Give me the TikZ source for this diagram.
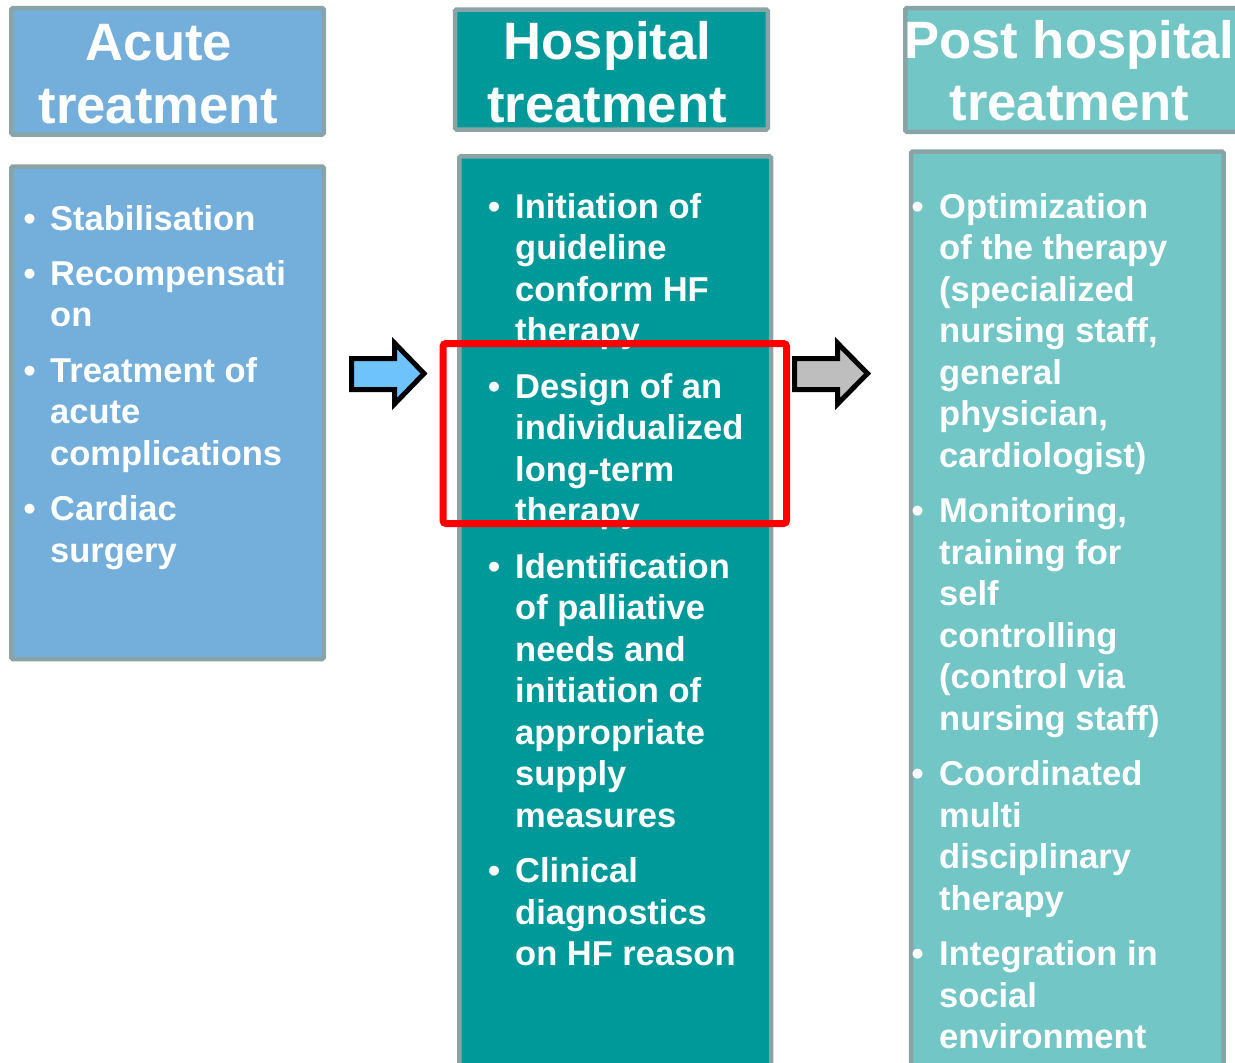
\documentclass[tikz,border=0pt]{standalone}
\usepackage{fontspec}
\setmainfont{Liberation Sans}
\definecolor{acutefill}{HTML}{74AFDB}
\definecolor{hospfill}{HTML}{009999}
\definecolor{postfill}{HTML}{73C6C6}
\definecolor{panelframe}{HTML}{8AA4A6}
\definecolor{arrowblue}{HTML}{6FC3FC}
\definecolor{arrowgray}{HTML}{BEBEBE}
\tikzset{
  panel/.style={draw=panelframe, line width=4.5pt, rounded corners=1.5pt},
  headtext/.style={text=white, font=\fontsize{52.6}{63}\selectfont\bfseries, anchor=base, inner sep=0pt},
  bodytext/.style={text=white, font=\fontsize{34.5}{41.5}\selectfont\bfseries, anchor=base west, inner sep=0pt},
  bul/.style={text=white, font=\fontsize{34.4}{41.5}\selectfont\bfseries, anchor=base west, inner sep=0pt},
  flowarrow/.style={draw=black, line width=5pt, line join=miter},
  highlight/.style={draw=red, line width=7pt, rounded corners=3pt}
}
\newcommand{\paratext}[1]{\parbox[t]{300pt}{\raggedright #1}}
\begin{document}
\begin{tikzpicture}[x=1pt,y=-1pt]
\useasboundingbox (0,0) rectangle (1235,1063);
\clip (0,0) rectangle (1235,1063);
% panels
\draw[panel, fill=acutefill] (11.25,8) rectangle (323.75,134.5);
\draw[panel, fill=acutefill] (11.25,166.5) rectangle (323.75,659);
\draw[panel, fill=hospfill] (455,9.5) rectangle (767.75,129.5);
\draw[panel, fill=hospfill] (459.25,156.25) rectangle (771,1080);
\draw[panel, fill=postfill] (905.25,8) rectangle (1245,131.75);
\draw[panel, fill=postfill] (911,151.5) rectangle (1223.5,1080);
% headers
\node[headtext] (ah1) at (159,60) {Acute};
\node[headtext] (ah2) at (158.5,123) {treatment};
\node[headtext] (hh1) at (607.5,59) {Hospital};
\node[headtext] (hh2) at (607,122.7) {treatment};
\node[headtext] (ph1) at (1069.5,58) {Post hospital};
\node[headtext] (ph2) at (1069.5,120) {treatment};
% acute body
\node[bul] (ab1) at (23.3,230) {•};
\node[bodytext] (a1) at (50,230) {\paratext{Stabilisation}};
\node[bul] (ab2) at (23.3,285) {•};
\node[bodytext] (a2) at (50,285) {\paratext{Recompensati\\on}};
\node[bul] (ab3) at (23.3,382) {•};
\node[bodytext] (a3) at (50,382) {\paratext{Treatment of\\acute\\complications}};
\node[bul] (ab4) at (23.3,520.5) {•};
\node[bodytext] (a4) at (50,520.5) {\paratext{Cardiac\\surgery}};
% hospital body
\node[bul] (hb1) at (487.8,218) {•};
\node[bodytext] (h1) at (515,218) {\paratext{Initiation of\\guideline\\conform HF\\therapy}};
\node[bul] (hb2) at (487.8,398) {•};
\node[bodytext] (h2) at (515,398) {\paratext{Design of an\\individualized\\long-term\\therapy}};
\node[bul] (hb3) at (487.8,578) {•};
\node[bodytext] (h3) at (515,578) {\paratext{Identification\\of palliative\\needs and\\initiation of\\appropriate\\supply\\measures}};
\node[bul] (hb4) at (487.8,882.5) {•};
\node[bodytext] (h4) at (515,882.5) {\paratext{Clinical\\diagnostics\\on HF reason}};
% post body
\node[bul] (pb1) at (911.3,218) {•};
\node[bodytext] (p1) at (939,218) {\paratext{Optimization\\of the therapy\\(specialized\\nursing staff,\\general\\physician,\\cardiologist)}};
\node[bul] (pb2) at (911.3,522.5) {•};
\node[bodytext] (p2) at (939,522.5) {\paratext{Monitoring,\\training for\\self\\controlling\\(control via\\nursing staff)}};
\node[bul] (pb3) at (911.3,785.5) {•};
\node[bodytext] (p3) at (939,785.5) {\paratext{Coordinated\\multi\\disciplinary\\therapy}};
\node[bul] (pb4) at (911.3,965.5) {•};
\node[bodytext] (p4) at (939,965.5) {\paratext{Integration in\\social\\environment}};
% arrows
\draw[flowarrow, fill=arrowblue] (351.5,358.5) -- (394.5,358.5) -- (394.5,343) -- (424,373.5) -- (394.5,404) -- (394.5,389.5) -- (351.5,389.5) -- cycle;
\draw[flowarrow, fill=arrowgray] (794.5,358.5) -- (837.5,358.5) -- (837.5,343) -- (867.5,373.5) -- (837.5,404) -- (837.5,389.5) -- (794.5,389.5) -- cycle;
% highlight
\draw[highlight] (443,343.5) rectangle (786.5,523.5);
\end{tikzpicture}
\end{document}
